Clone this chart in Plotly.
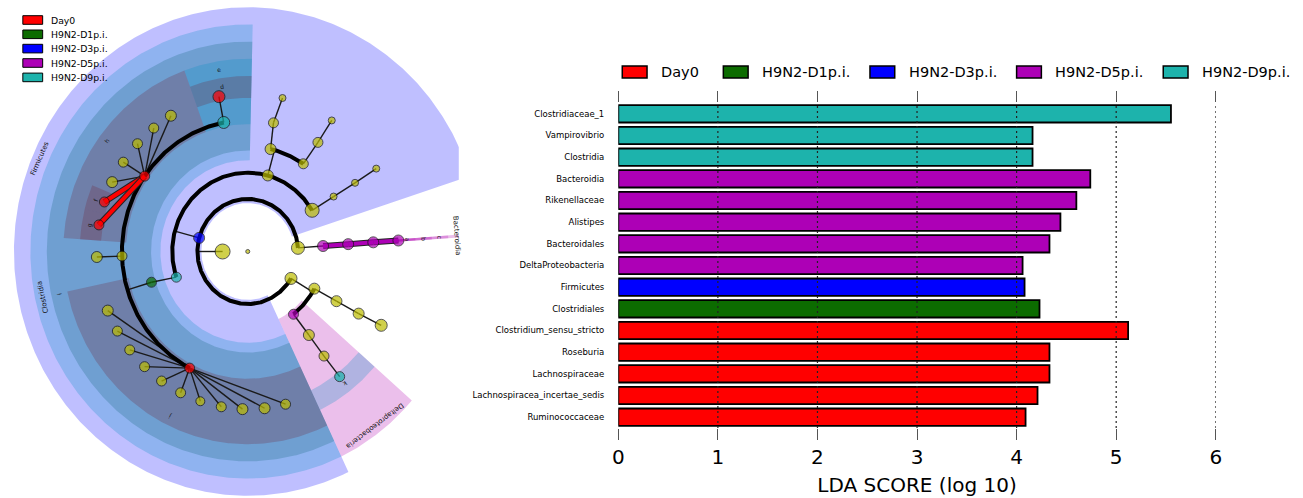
import numpy as np
import plotly.graph_objects as go

# ---------------- LDA effect size data ----------------
groups = ["Day0", "H9N2-D1p.i.", "H9N2-D3p.i.", "H9N2-D5p.i.", "H9N2-D9p.i."]
group_colors = ["#ff0000", "#0c6c00", "#0000ff", "#ad00b6", "#1db3ac"]
# translucent tints used for the cladogram sectors of each group
group_shades = ["rgba(112,30,50,0.25)", "rgba(16,100,115,0.25)", "rgba(0,0,255,0.25)",
                "rgba(176,0,176,0.25)", "rgba(0,144,196,0.25)"]

taxa = ["Clostridiaceae_1", "Vampirovibrio", "Clostridia", "Bacteroidia", "Rikenellaceae",
        "Alistipes", "Bacteroidales", "DeltaProteobacteria", "Firmicutes", "Clostridiales",
        "Clostridium_sensu_stricto", "Roseburia", "Lachnospiraceae",
        "Lachnospiracea_incertae_sedis", "Ruminococcaceae"]
lda_score = [5.55, 4.16, 4.16, 4.74, 4.60, 4.44, 4.33, 4.06, 4.08, 4.23,
             5.12, 4.33, 4.33, 4.21, 4.09]
taxon_group = ["H9N2-D9p.i.", "H9N2-D9p.i.", "H9N2-D9p.i.",
               "H9N2-D5p.i.", "H9N2-D5p.i.", "H9N2-D5p.i.", "H9N2-D5p.i.", "H9N2-D5p.i.",
               "H9N2-D3p.i.", "H9N2-D1p.i.",
               "Day0", "Day0", "Day0", "Day0", "Day0"]
lda_ticks = [0, 1, 2, 3, 4, 5, 6]

# ---------------- cladogram tree ----------------
node_name = ["root", "Bacteria",
             "Bacteroidetes", "Bacteroidia", "Bacteroidales", "Rikenellaceae", "Alistipes",
             "Firmicutes",
             "F_c1", "F_c1_o", "F_c1_f", "F_c1_g",
             "F_c2", "F_c2_o1", "F_c2_o1_f", "F_c2_o1_g", "F_c2_o2", "F_c2_o2_f", "F_c2_o2_g",
             "Clostridia", "Clostridiales",
             "Clostridiaceae_1", "Clostridium_sensu_stricto",
             "Lachnospiraceae", "Roseburia", "Lachnospiracea_incertae_sedis",
             "L_g1", "L_g2", "L_g3", "L_g4", "L_g5",
             "C_f3", "C_f3_g",
             "Ruminococcaceae",
             "R_g1", "R_g2", "R_g3", "R_g4", "R_g5", "R_g6", "R_g7", "R_g8", "R_g9", "R_g10", "R_g11",
             "Proteobacteria", "P_c1", "P_c1_o", "P_c1_f", "P_c1_g",
             "DeltaProteobacteria", "D_o", "D_f", "Vampirovibrio"]
node_parent = [-1, 0,
               1, 2, 3, 4, 5,
               1,
               7, 8, 9, 10,
               7, 12, 13, 14, 12, 16, 17,
               7, 19,
               20, 21,
               20, 23, 23,
               23, 23, 23, 23, 23,
               20, 31,
               20,
               33, 33, 33, 33, 33, 33, 33, 33, 33, 33, 33,
               1, 45, 46, 47, 48,
               45, 50, 51, 52]
node_level = [0, 1,
              2, 3, 4, 5, 6,
              2,
              3, 4, 5, 6,
              3, 4, 5, 6, 4, 5, 6,
              3, 4,
              5, 6,
              5, 6, 6,
              6, 6, 6, 6, 6,
              5, 6,
              5,
              6, 6, 6, 6, 6, 6, 6, 6, 6, 6, 6,
              2, 3, 4, 5, 6,
              3, 4, 5, 6]
node_angle = [0, 180,
              4, 4, 4, 4, 4,
              165,
              31.5, 31.5, 31.5, 31.7,
              74.6, 76.9, 78.2, 76.7, 56.5, 56.1, 56.2,
              199, 197,
              101, 101,
              145, 161.7, 170.3,
              153.9, 145.5, 136.9, 128.5, 120.6,
              182, 182,
              242.5,
              202.0, 210.3, 218.6, 226.9, 235.2, 243.6, 251.7, 259.9, 268.0, 276.4, 284.5,
              329.2, 331.9, 331.8, 331.8, 332.1,
              307.3, 307.4, 307.3, 307.5]
node_group = [None, None,
              None, "H9N2-D5p.i.", "H9N2-D5p.i.", "H9N2-D5p.i.", "H9N2-D5p.i.",
              "H9N2-D3p.i.",
              None, None, None, None,
              None, None, None, None, None, None, None,
              "H9N2-D9p.i.", "H9N2-D1p.i.",
              "H9N2-D9p.i.", "Day0",
              "Day0", "Day0", "Day0",
              None, None, None, None, None,
              None, None,
              "Day0",
              None, None, None, None, None, None, None, None, None, None, None,
              None, None, None, None, None,
              "H9N2-D5p.i.", None, None, "H9N2-D9p.i."]
node_size = [4, 15,
             13, 11, 11, 11, 11,
             11,
             14, 7, 7, 7,
             11, 11, 10, 7, 10, 10, 7,
             10, 10,
             12, 12,
             10, 10, 10,
             11, 10, 10, 10, 11,
             10, 11,
             10,
             11, 10, 10, 10, 10, 10, 9, 10, 11, 11, 10,
             12, 11, 11, 11, 12,
             10, 11, 10, 10]

# shaded sectors of the discriminant clades
shade_clade = ["Firmicutes", "Clostridia", "Bacteroidia", "DeltaProteobacteria",
               "Clostridiales", "Bacteroidales",
               "Clostridiaceae_1", "Lachnospiraceae", "Ruminococcaceae", "Rikenellaceae",
               "Clostridium_sensu_stricto", "Roseburia", "Lachnospiracea_incertae_sedis",
               "Alistipes", "Vampirovibrio"]
shade_start = [18.0, 88.7, 3.6, 295.5,
               88.7, 3.6,
               88.7, 110.1, 192.0, 3.6,
               88.7, 157.8, 166.0,
               3.6, 295.5]
shade_end = [295.5, 295.5, 4.4, 319.0,
             295.5, 4.4,
             110.1, 176.0, 295.5, 4.4,
             110.1, 166.0, 176.0,
             4.4, 319.0]
shade_tag = ["Firmicutes", "Clostridia", "Bacteroidia", "Deltaproteobacteria",
             "i", "c",
             "e", "h", "j", "b",
             "d", "f", "g",
             "a", "k"]

# ---------------- geometry helpers ----------------
LEVEL_STEP = 25.4
OUTER_R2 = 236.0
OUTER_STEP = 16.6
INNER_PAD = -4.0
INNER_PAD_OVERRIDE = {"Clostridia": 12.0}
MAX_LEVEL = max(node_level)
NODE_YELLOW = "#bdbd00"
color_of = dict(zip(groups, group_colors))
shade_of = dict(zip(groups, group_shades))


def pol(r, deg):
    t = np.radians(deg)
    return r * np.cos(t), r * np.sin(t)


def arc(r, a0, a1, step=0.5):
    n = max(2, int(abs(a1 - a0) / step) + 1)
    t = np.radians(np.linspace(a0, a1, n))
    return r * np.cos(t), r * np.sin(t)


def outer_radius(level):
    return OUTER_R2 - OUTER_STEP * (level - 2)


rad = np.array(node_level, dtype=float) * LEVEL_STEP
ang = np.array(node_angle, dtype=float)
idx_of = {n: i for i, n in enumerate(node_name)}

fig = go.Figure()

# sectors
for name, a0, a1 in zip(shade_clade, shade_start, shade_end):
    i = idx_of[name]
    lv = node_level[i]
    r_in = rad[i] + INNER_PAD_OVERRIDE.get(name, INNER_PAD)
    r_out = outer_radius(lv)
    xo, yo = arc(r_out, a0, a1)
    xi, yi = arc(r_in, a1, a0)
    xs = np.concatenate([xo, xi, xo[:1]])
    ys = np.concatenate([yo, yi, yo[:1]])
    fig.add_trace(go.Scatter(x=xs, y=ys, mode="lines", fill="toself",
                             fillcolor=shade_of[node_group[i]],
                             line=dict(width=0), hoverinfo="skip",
                             xaxis="x2", yaxis="y2"))

# branches
children = {i: [] for i in range(len(node_name))}
for i, p in enumerate(node_parent):
    if p >= 0:
        children[p].append(i)

thin_x, thin_y, arc_x, arc_y = [], [], [], []
hi_segments = []
for p, kids in children.items():
    if node_parent[p] < 0 or not kids:
        continue
    straight = len(kids) == 1 or all(node_level[k] == MAX_LEVEL for k in kids)
    if straight:
        for k in kids:
            x0, y0 = pol(rad[p], ang[p])
            x1, y1 = pol(rad[k], ang[k])
            if node_group[p] is not None and node_group[p] == node_group[k]:
                hi_segments.append(([x0, x1], [y0, y1], color_of[node_group[p]]))
            else:
                thin_x += [x0, x1, None]
                thin_y += [y0, y1, None]
    else:
        rc = rad[kids[0]]
        x0, y0 = pol(rad[p], ang[p])
        x1, y1 = pol(rc, ang[p])
        thin_x += [x0, x1, None]
        thin_y += [y0, y1, None]
        ka = ang[kids]
        ax_, ay_ = arc(rc, ka.min(), ka.max())
        arc_x += list(ax_) + [None]
        arc_y += list(ay_) + [None]

fig.add_trace(go.Scatter(x=thin_x, y=thin_y, mode="lines",
                         line=dict(color="#1a1a1a", width=1.4),
                         hoverinfo="skip", xaxis="x2", yaxis="y2"))
fig.add_trace(go.Scatter(x=arc_x, y=arc_y, mode="lines",
                         line=dict(color="black", width=4),
                         hoverinfo="skip", xaxis="x2", yaxis="y2"))
for xs, ys, c in hi_segments:
    fig.add_trace(go.Scatter(x=xs, y=ys, mode="lines", line=dict(color="#222", width=6),
                             hoverinfo="skip", xaxis="x2", yaxis="y2"))
    fig.add_trace(go.Scatter(x=xs, y=ys, mode="lines", line=dict(color=c, width=4),
                             hoverinfo="skip", xaxis="x2", yaxis="y2"))

# nodes
nx, ny = pol(rad, ang)
ncol = [NODE_YELLOW if g is None else color_of[g] for g in node_group]
fig.add_trace(go.Scatter(x=nx, y=ny, mode="markers",
                         marker=dict(size=node_size, color=ncol,
                                     line=dict(color="#111", width=1)),
                         hoverinfo="skip", xaxis="x2", yaxis="y2"))

# clade labels
for name, a0, a1, tag in zip(shade_clade, shade_start, shade_end, shade_tag):
    i = idx_of[name]
    lv = node_level[i]
    r_lab = (outer_radius(lv) + outer_radius(lv + 1)) / 2
    mid = (a0 + a1) / 2
    lx, ly = pol(r_lab, mid)
    rot = 90 - mid
    while rot > 180:
        rot -= 360
    while rot <= -180:
        rot += 360
    fig.add_annotation(x=lx, y=ly, xref="x2", yref="y2", text=tag, showarrow=False,
                       textangle=rot, xanchor="center", yanchor="middle",
                       font=dict(size=7 if len(tag) > 1 else 6, color="#111"))

# ---------------- LDA bars ----------------
fig.add_trace(go.Bar(x=lda_score, y=taxa, orientation="h", width=0.8,
                     marker=dict(color=[color_of[g] for g in taxon_group],
                                 line=dict(color="black", width=1.8)),
                     hoverinfo="skip", xaxis="x", yaxis="y"))

for k in lda_ticks[1:]:
    fig.add_shape(type="line", xref="x", yref="y domain", x0=k, x1=k, y0=0, y1=1,
                  layer="above", line=dict(color="#222", width=1.2, dash="2px,3px"))

W, H = 1303, 498


def px(x):
    return x / W


def py(y):
    return (H - y) / H


# legend above the bars
bar_leg_x = [622, 724, 872, 1020, 1168]
for g, c, x0 in zip(groups, group_colors, bar_leg_x):
    fig.add_shape(type="rect", xref="paper", yref="paper",
                  x0=px(x0), x1=px(x0 + 25), y0=py(78), y1=py(66),
                  fillcolor=c, line=dict(color="black", width=1.5))
    fig.add_annotation(xref="paper", yref="paper", x=px(x0 + 37), y=py(72), text=g,
                       showarrow=False, xanchor="left", yanchor="middle",
                       font=dict(size=14.5, color="black"))

# legend beside the cladogram
clad_leg_y = [20, 34.3, 48.6, 63, 77.4]
for g, c, yc in zip(groups, group_colors, clad_leg_y):
    fig.add_shape(type="rect", xref="paper", yref="paper",
                  x0=px(17), x1=px(37), y0=py(yc + 4.3), y1=py(yc - 4.3),
                  fillcolor=c, line=dict(color="black", width=1))
    fig.add_annotation(xref="paper", yref="paper", x=px(43), y=py(yc), text=g,
                       showarrow=False, xanchor="left", yanchor="middle",
                       font=dict(size=9.3, color="black"))

CX, CY, YS = 244.0, 251.5, 1.035
fig.update_layout(
    width=W, height=H, margin=dict(l=0, r=0, t=0, b=0),
    paper_bgcolor="white", plot_bgcolor="rgba(0,0,0,0)", showlegend=False,
    font=dict(family="DejaVu Sans", color="black"),
    xaxis=dict(domain=[px(618), px(1221)], range=[0, 6], tickvals=lda_ticks,
               ticks="outside", ticklen=11, tickwidth=1, tickcolor="#555", mirror="ticks",
               showline=False, showgrid=False, zeroline=False,
               tickfont=dict(size=20), anchor="y",
               title=dict(text="LDA SCORE (log 10)", font=dict(size=20), standoff=9)),
    yaxis=dict(domain=[py(428), py(103)], type="category", categoryorder="array",
               categoryarray=taxa, range=[14.5, -0.5], showgrid=False, zeroline=False,
               showline=False, ticks="", tickfont=dict(size=8.5), ticklabelstandoff=13,
               anchor="x"),
    xaxis2=dict(domain=[0, px(457)], range=[-CX, 457 - CX], visible=False, anchor="y2"),
    yaxis2=dict(domain=[0, 1], range=[-(H - CY) / YS, CY / YS], visible=False, anchor="x2"),
)

fig.write_html("out.html")
